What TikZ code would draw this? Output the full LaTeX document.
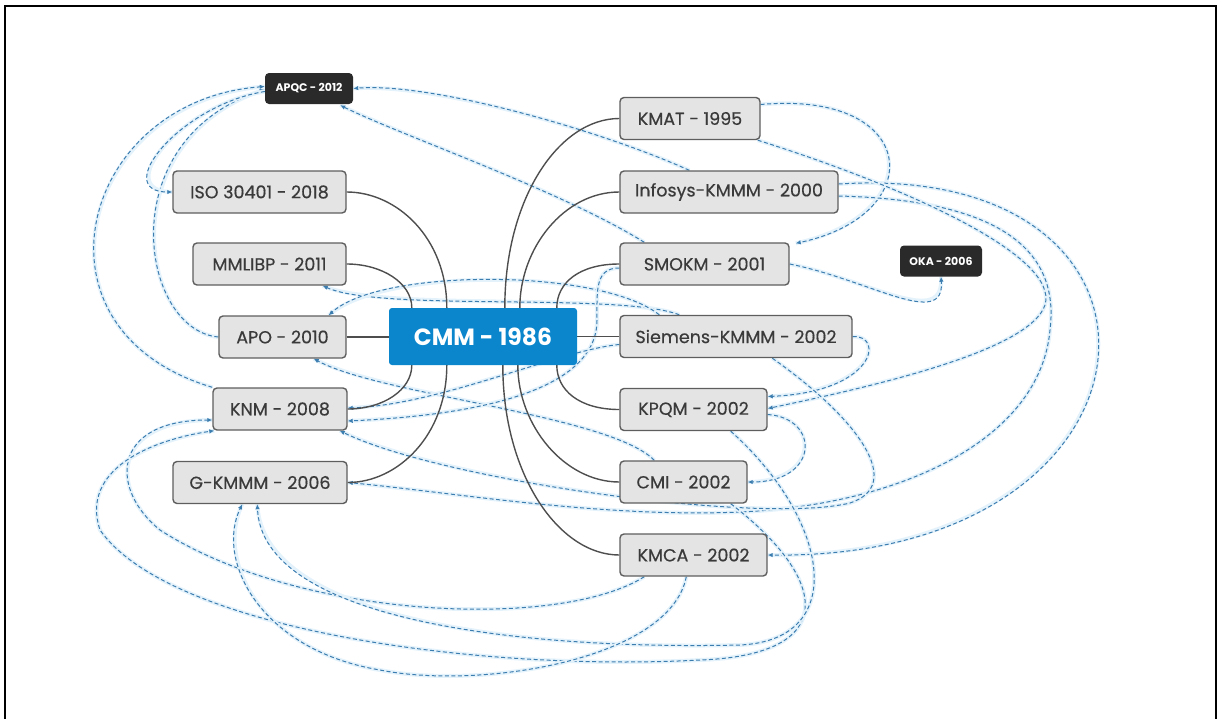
\documentclass[tikz,border=0pt]{standalone}
\usepackage{fontspec}
\setmainfont{Poppins}
\newfontfamily\boxfont[FakeBold=0.5]{Poppins}
\usetikzlibrary{arrows.meta,calc}
\definecolor{boxfill}{HTML}{E4E4E4}
\definecolor{boxline}{HTML}{5E5E5E}
\definecolor{boxtext}{HTML}{3A3A3A}
\definecolor{core}{HTML}{0B86CC}
\definecolor{darkbox}{HTML}{2A2A2A}
\definecolor{link}{HTML}{3C7DB0}
\definecolor{halo}{HTML}{E4F2FB}
\definecolor{tree}{HTML}{4E4E4E}
\pgfdeclarelayer{bg}
\pgfsetlayers{bg,main}
\tikzset{
  model/.style={draw=boxline, fill=boxfill, rounded corners=4pt, line width=1.4pt,
    minimum height=42pt, inner sep=0pt, text=boxtext,
    font=\boxfont\fontsize{17.5}{20}\selectfont},
  tag/.style={fill=darkbox, rounded corners=4pt, minimum height=31pt, inner sep=0pt,
    text=white, font=\fontsize{11}{13}\selectfont\bfseries},
  hub/.style={fill=core, rounded corners=3pt, minimum width=188pt, minimum height=57pt,
    inner sep=0pt, text=white, font=\fontsize{23.5}{27}\selectfont\bfseries},
  branch/.style={draw=tree, line width=1.4pt},
  ref/.style={draw=link, line width=1pt, dash pattern=on 4pt off 2.5pt,
    -{Latex[length=5pt,width=4.5pt]},
    preaction={draw=halo, line width=4pt, solid, -}},
}
\begin{document}
\begin{tikzpicture}[x=1pt,y=-1pt]
\useasboundingbox (0,0) rectangle (1221,718);

% page frame
\draw[line width=2pt] (5,722) -- (5,6) -- (1216,6) -- (1216,722);

% central model
\node[hub] (cmm) at (483,336.5) {CMM - 1986};

% left column
\node[model, minimum width=173pt] (iso) at (259.5,192) {ISO 30401 - 2018};
\node[model, minimum width=153pt] (mml) at (269.5,264) {MMLIBP - 2011};
\node[model, minimum width=127pt] (apo) at (282.5,337) {APO - 2010};
\node[model, minimum width=134pt] (knm) at (280,409) {KNM - 2008};
\node[model, minimum width=174pt] (gk)  at (260,482.5) {G-KMMM - 2006};

% right column
\node[model, minimum width=140pt] (kmat) at (690,118.5) {KMAT - 1995};
\node[model, minimum width=218pt] (inf)  at (729,192) {Infosys-KMMM - 2000};
\node[model, minimum width=169pt] (smo)  at (704.5,264) {SMOKM - 2001};
\node[model, minimum width=232pt] (sie)  at (736,336.5) {Siemens-KMMM - 2002};
\node[model, minimum width=147pt] (kpqm) at (693.5,409.5) {KPQM - 2002};
\node[model, minimum width=127pt] (cmi)  at (683.5,482) {CMI - 2002};
\node[model, minimum width=147pt] (kmca) at (693.5,555) {KMCA - 2002};

% detached models
\node[tag, minimum width=88pt] (apqc) at (309,88.5) {APQC - 2012};
\node[tag, minimum width=82pt] (oka)  at (941,261) {OKA - 2006};

\begin{pgfonlayer}{bg}
% influence links
\draw[ref] (knm.north west) .. controls (20,330) and (80,100) .. ($(apqc.west)+(0,-2)$);
\draw[ref] (apo.west) .. controls (140,330) and (110,140) .. ($(apqc.west)+(0,1)$);
\draw[ref] ($(apqc.west)+(0,3)$) .. controls (180,105) and (110,192) .. (iso.west);
\draw[ref] ($(inf.north west)+(70,0)$) .. controls (600,130) and (430,82) .. (apqc.east);
\draw[ref] ($(smo.north west)+(25,0)$) .. controls (560,190) and (400,135) .. ($(apqc.south east)+(-13,1)$);
\draw[ref] ($(kmat.east)+(0,-14)$) .. controls (920,90) and (930,215) .. ($(smo.north east)+(6,1)$);
\draw[ref] (smo.east) .. controls (870,280) and (945,330) .. (oka.south);
\draw[ref] ($(inf.east)+(0,-8)$) .. controls (1210,160) and (1180,560) .. (kmca.east);
\draw[ref] ($(inf.east)+(0,4)$) .. controls (1000,200) and (1060,250) .. (1050,330)
  .. controls (1040,440) and (900,505) .. (740,512) .. controls (600,518) and (450,492) .. (gk.east);
\draw[ref] ($(kmat.south east)+(-3,0)$) .. controls (900,185) and (1060,255) .. (1045,305)
  .. controls (1030,350) and (880,385) .. ($(kpqm.east)+(0,-1)$);
\draw[ref] (sie.east) .. controls (885,335) and (875,392) .. ($(kpqm.east)+(0,-13)$);
\draw[ref] ($(kpqm.east)+(0,5)$) .. controls (820,418) and (820,482) .. (cmi.east);
\draw[ref] ($(sie.south west)+(153,0)$) .. controls (860,420) and (905,485) .. (850,503)
  .. controls (760,525) and (440,480) .. ($(knm.south east)+(-8,0)$);
\draw[ref] ($(cmi.north west)+(35,0)$) .. controls (610,415) and (380,395) .. ($(apo.south east)+(-33,0)$);
\draw[ref] ($(sie.north west)+(60,0)$) .. controls (620,292) and (380,312) .. ($(mml.south east)+(-24,0)$);
\draw[ref] ($(sie.north west)+(40,0)$) .. controls (600,268) and (380,268) .. ($(apo.north east)+(-18,0)$);
\draw[ref] ($(smo.west)+(0,4)$) .. controls (595,268) and (597,290) .. (597,320)
  .. controls (597,390) and (480,415) .. ($(knm.east)+(0,12)$);
\draw[ref] ($(sie.west)+(0,8)$) .. controls (560,350) and (440,405) .. ($(knm.east)+(0,-1)$);
\draw[ref] ($(kmca.south west)+(25,0)$) .. controls (560,630) and (300,620) .. (160,530)
  .. controls (110,490) and (110,420) .. ($(knm.west)+(0,11)$);
\draw[ref] ($(cmi.south east)+(-17,0)$) .. controls (830,580) and (840,655) .. (700,660)
  .. controls (480,672) and (170,630) .. (100,530) .. controls (80,470) and (150,440) .. ($(knm.south west)+(2,0)$);
\draw[ref] ($(kpqm.south east)+(-37,0)$) .. controls (830,520) and (850,640) .. (740,645)
  .. controls (520,650) and (262,620) .. ($(gk.south west)+(85,0)$);
\draw[ref] ($(kmca.south west)+(67,0)$) .. controls (670,660) and (480,690) .. (380,670)
  .. controls (260,650) and (215,560) .. ($(gk.south west)+(70,0)$);

% tree branches from the central model
\draw[branch] (iso.east) .. controls +(50,0) and +(0,-70) .. ($(cmm.north west)+(58,0)$);
\draw[branch] (mml.east) .. controls +(35,0) and +(0,-25) .. ($(cmm.north west)+(23,0)$);
\draw[branch] (apo.east) -- (apo.east -| cmm.west);
\draw[branch] (knm.east) .. controls +(35,0) and +(0,25) .. ($(cmm.south west)+(23,0)$);
\draw[branch] (gk.east) .. controls +(50,0) and +(0,70) .. ($(cmm.south west)+(58,0)$);
\draw[branch] (kmat.west) .. controls +(-60,0) and +(0,-110) .. ($(cmm.north west)+(116,0)$);
\draw[branch] (inf.west) .. controls +(-55,0) and +(0,-60) .. ($(cmm.north west)+(131,0)$);
\draw[branch] (smo.west) .. controls +(-40,0) and +(0,-25) .. ($(cmm.north west)+(168,0)$);
\draw[branch] (sie.west) -- (sie.west -| cmm.east);
\draw[branch] (kpqm.west) .. controls +(-40,0) and +(0,25) .. ($(cmm.south west)+(168,0)$);
\draw[branch] (cmi.west) .. controls +(-55,0) and +(0,60) .. ($(cmm.south west)+(129,0)$);
\draw[branch] (kmca.west) .. controls +(-60,0) and +(0,110) .. ($(cmm.south west)+(114,0)$);
\end{pgfonlayer}
\end{tikzpicture}
\end{document}
